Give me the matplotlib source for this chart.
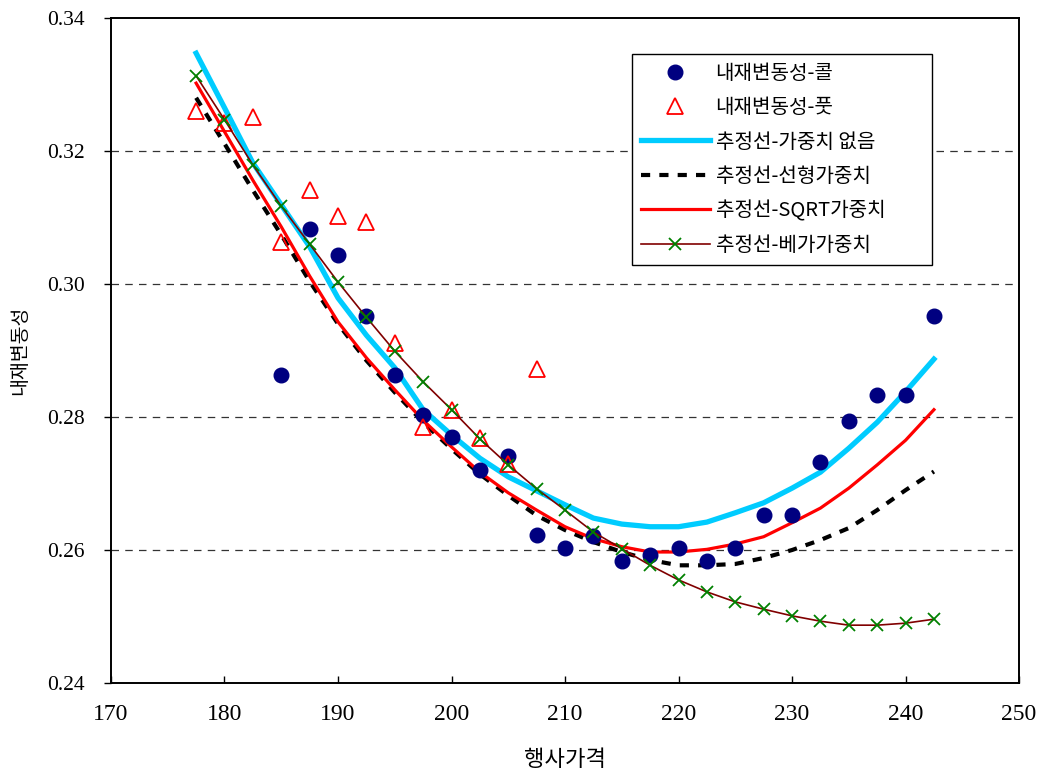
import matplotlib
matplotlib.use("Agg")
import matplotlib.pyplot as plt

# ---- data ----
strike_all = [177.5, 180, 182.5, 185, 187.5, 190, 192.5, 195, 197.5, 200, 202.5, 205,
              207.5, 210, 212.5, 215, 217.5, 220, 222.5, 225, 227.5, 230, 232.5, 235,
              237.5, 240, 242.5]

call_x = [185, 187.5, 190, 192.5, 195, 197.5, 200, 202.5, 205, 207.5, 210, 212.5, 215,
          217.5, 220, 222.5, 225, 227.5, 230, 232.5, 235, 237.5, 240, 242.5]
call_iv = [0.2863, 0.3083, 0.3044, 0.2952, 0.2863, 0.2803, 0.2770, 0.2720, 0.2741,
           0.2623, 0.2603, 0.2621, 0.2583, 0.2592, 0.2603, 0.2583, 0.2603, 0.2653,
           0.2653, 0.2732, 0.2794, 0.2833, 0.2833, 0.2952]

put_x = [177.5, 180, 182.5, 185, 187.5, 190, 192.5, 195, 197.5, 200, 202.5, 205, 207.5]
put_iv = [0.3260, 0.3242, 0.3251, 0.3063, 0.3141, 0.3102, 0.3093, 0.2911, 0.2785,
          0.2811, 0.2768, 0.2729, 0.2872]

fit_none = [0.3347, 0.3265, 0.3182, 0.3119, 0.3056, 0.2979, 0.2923, 0.2874, 0.2811,
            0.2773, 0.2738, 0.2710, 0.2689, 0.2668, 0.2648, 0.2639, 0.2635, 0.2635,
            0.2642, 0.2656, 0.2671, 0.2693, 0.2717, 0.2753, 0.2792, 0.2838, 0.2887]
fit_linear = [0.3280, 0.3211, 0.3141, 0.3074, 0.3004, 0.2940, 0.2885, 0.2837, 0.2792,
              0.2752, 0.2714, 0.2682, 0.2652, 0.2630, 0.2612, 0.2597, 0.2585, 0.2577,
              0.2577, 0.2579, 0.2588, 0.2600, 0.2615, 0.2633, 0.2660, 0.2690, 0.2718]
fit_sqrt = [0.3302, 0.3229, 0.3156, 0.3086, 0.3012, 0.2943, 0.2889, 0.2841, 0.2795,
            0.2755, 0.2717, 0.2686, 0.2660, 0.2635, 0.2617, 0.2605, 0.2597, 0.2597,
            0.2601, 0.2609, 0.2620, 0.2641, 0.2663, 0.2693, 0.2728, 0.2765, 0.2811]
fit_vega = [0.3313, 0.3247, 0.3179, 0.3117, 0.3060, 0.3003, 0.2950, 0.2899, 0.2853,
            0.2811, 0.2767, 0.2728, 0.2692, 0.2660, 0.2627, 0.2602, 0.2577, 0.2555,
            0.2537, 0.2522, 0.2511, 0.2501, 0.2493, 0.2487, 0.2487, 0.2490, 0.2496]

labels = ["내재변동성-콜", "내재변동성-풋", "추정선-가중치 없음", "추정선-선형가중치",
          "추정선-SQRT가중치", "추정선-베가가중치"]
xticks = [170, 180, 190, 200, 210, 220, 230, 240, 250]
yticks = [0.24, 0.26, 0.28, 0.30, 0.32, 0.34]

KR = ["Noto Sans CJK KR", "DejaVu Sans"]
SERIF = "Liberation Serif"

fig = plt.figure(figsize=(10.52, 7.71), dpi=100)
ax = fig.add_axes([0.1055, 0.1141, 0.8632, 0.8626])

ax.plot(call_x, call_iv, linestyle="none", marker="o", markersize=10.5,
        color="#000080", label=labels[0], zorder=5)
ax.plot(put_x, put_iv, linestyle="none", marker="^", markersize=11,
        markerfacecolor="none", markeredgecolor="#ff0000", markeredgewidth=1.3,
        label=labels[1], zorder=5)
ax.plot(strike_all, fit_none, color="#00ccff", linewidth=3.8, label=labels[2], zorder=3)
ax.plot(strike_all, fit_linear, color="black", linewidth=3.0, linestyle=(0, (2.2, 2.2)),
        label=labels[3], zorder=2)
ax.plot(strike_all, fit_sqrt, color="#ff0000", linewidth=2.3, label=labels[4], zorder=4)
ax.plot(strike_all, fit_vega, color="#800000", linewidth=1.2, marker="x", markersize=9,
        markeredgecolor="#008000", markeredgewidth=1.3, label=labels[5], zorder=6)

ax.set_xlim(170, 250)
ax.set_ylim(0.24, 0.34)
ax.set_xticks(xticks)
ax.set_yticks(yticks)
ax.set_xticklabels([str(t) for t in xticks], fontfamily=SERIF, fontsize=17)
ax.set_yticklabels(["%.2f" % t for t in yticks], fontfamily=SERIF, fontsize=15.5)
ax.tick_params(axis="x", direction="in", length=5, pad=15, width=1)
ax.tick_params(axis="y", direction="out", length=5, pad=14, width=1)

for t in yticks[1:-1]:
    ax.axhline(t, color="#333333", linewidth=0.9, linestyle=(0, (6, 5)), zorder=1)

for s in ax.spines.values():
    s.set_linewidth(1.4)

ax.set_xlabel("행사가격", fontfamily=KR, fontsize=16, labelpad=17)
ax.set_ylabel("내재변동성", fontfamily=KR, fontsize=14, labelpad=12)

leg = ax.legend(loc="upper left", bbox_to_anchor=(0.5738, 0.5, 0.330, 0.446), mode="expand",
                borderaxespad=0, prop={"family": KR, "size": 14.5},
                frameon=True, fancybox=False, edgecolor="black", framealpha=1,
                handlelength=3.4, labelspacing=0.66, borderpad=0.45, handletextpad=0.3)
leg.get_frame().set_linewidth(1.0)

fig.savefig("out.png", dpi=100)
